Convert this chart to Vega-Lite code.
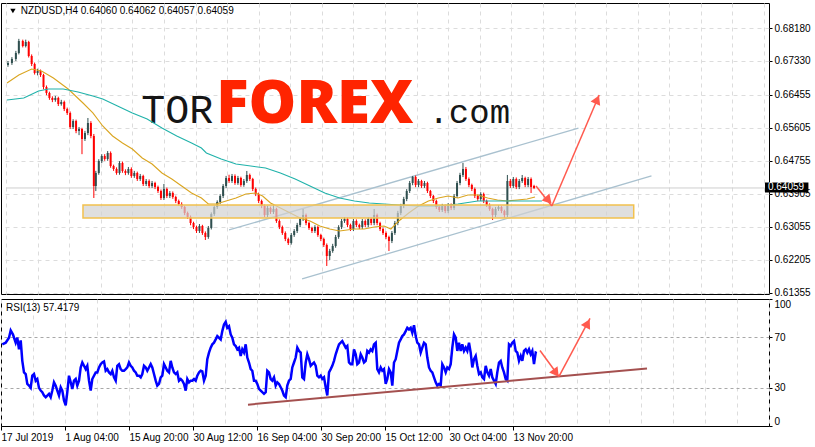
{
  "$schema": "https://vega.github.io/schema/vega-lite/v6.json",
  "padding": {"left": -4, "top": 2, "right": 0, "bottom": 0},
  "background": "#ffffff",
  "spacing": 5,
  "bounds": "flush",
  "config": {
    "view": {"stroke": "#000000", "strokeWidth": 1},
    "axis": {"labelFont": "Liberation Sans", "labelFontSize": 10, "labelColor": "#000000", "tickColor": "#000000", "domain": false}
  },
  "datasets": {
    "wm_tor": [{"t": 137, "p": 0.65733, "txt": "TOR"}],
    "wm_forex": [{"t": 213, "p": 0.65733, "txt": "FOREX"}],
    "wm_com": [{"t": 428, "p": 0.65733, "txt": ".com"}],
    "bid": [{"t": 0, "t2": 768, "p": 0.64059}],
    "chan": [{"t": 226, "p": 0.62977, "t2": 580, "p2": 0.65604}, {"t": 300, "p": 0.61715, "t2": 654, "p2": 0.64368}],
    "zone": [{"t": 78, "t2": 636, "p": 0.63286, "p2": 0.63621}],
    "arrows": [{"t": 537, "p": 0.64110, "t2": 553, "p2": 0.63595}, {"t": 553, "p": 0.63595, "t2": 601, "p2": 0.66454}],
    "head1": [{"t": 549.7, "p": 0.63742}],
    "head2": [{"t": 599, "p": 0.66336}],
    "pricebox": [{"t": 769, "t2": 813, "p": 0.63943, "p2": 0.64200}],
    "pricetext": [{"t": 772, "p": 0.64072, "txt": "0.64059"}],
    "titletri": [{"t": 7, "p": 0.68618}],
    "titletext": [{"t": 15, "p": 0.68618, "txt": "NZDUSD,H4  0.64060 0.64062 0.64057 0.64059"}],
    "ma": [
      {"t": 1, "p": 0.66763, "s": "fast"}, {"t": 13, "p": 0.66969, "s": "fast"}, {"t": 26, "p": 0.67124, "s": "fast"}, {"t": 36, "p": 0.67072, "s": "fast"}, {"t": 48, "p": 0.66892, "s": "fast"}, {"t": 63, "p": 0.66609, "s": "fast"}, {"t": 78, "p": 0.66248, "s": "fast"}, {"t": 88, "p": 0.65991, "s": "fast"}, {"t": 98, "p": 0.65656, "s": "fast"}, {"t": 108, "p": 0.65398, "s": "fast"}, {"t": 118, "p": 0.65218, "s": "fast"}, {"t": 128, "p": 0.65063, "s": "fast"}, {"t": 138, "p": 0.64832, "s": "fast"}, {"t": 148, "p": 0.64677, "s": "fast"}, {"t": 158, "p": 0.64445, "s": "fast"}, {"t": 168, "p": 0.64291, "s": "fast"}, {"t": 178, "p": 0.64110, "s": "fast"}, {"t": 188, "p": 0.63930, "s": "fast"}, {"t": 198, "p": 0.63801, "s": "fast"}, {"t": 205, "p": 0.63647, "s": "fast"}, {"t": 213, "p": 0.63647, "s": "fast"}, {"t": 223, "p": 0.63724, "s": "fast"}, {"t": 233, "p": 0.63801, "s": "fast"}, {"t": 243, "p": 0.63904, "s": "fast"}, {"t": 253, "p": 0.63930, "s": "fast"}, {"t": 260, "p": 0.63853, "s": "fast"}, {"t": 268, "p": 0.63672, "s": "fast"}, {"t": 278, "p": 0.63544, "s": "fast"}, {"t": 288, "p": 0.63415, "s": "fast"}, {"t": 298, "p": 0.63286, "s": "fast"}, {"t": 308, "p": 0.63209, "s": "fast"}, {"t": 318, "p": 0.63080, "s": "fast"}, {"t": 328, "p": 0.63003, "s": "fast"}, {"t": 338, "p": 0.62951, "s": "fast"}, {"t": 353, "p": 0.63003, "s": "fast"}, {"t": 363, "p": 0.63003, "s": "fast"}, {"t": 373, "p": 0.63054, "s": "fast"}, {"t": 383, "p": 0.63080, "s": "fast"}, {"t": 390, "p": 0.63003, "s": "fast"}, {"t": 398, "p": 0.63209, "s": "fast"}, {"t": 408, "p": 0.63415, "s": "fast"}, {"t": 418, "p": 0.63595, "s": "fast"}, {"t": 428, "p": 0.63724, "s": "fast"}, {"t": 438, "p": 0.63801, "s": "fast"}, {"t": 448, "p": 0.63853, "s": "fast"}, {"t": 458, "p": 0.63801, "s": "fast"}, {"t": 468, "p": 0.63878, "s": "fast"}, {"t": 478, "p": 0.63878, "s": "fast"}, {"t": 488, "p": 0.63801, "s": "fast"}, {"t": 498, "p": 0.63750, "s": "fast"}, {"t": 508, "p": 0.63724, "s": "fast"}, {"t": 518, "p": 0.63750, "s": "fast"}, {"t": 528, "p": 0.63775, "s": "fast"}, {"t": 536, "p": 0.63827, "s": "fast"},
      {"t": 1, "p": 0.66326, "s": "slow"}, {"t": 18, "p": 0.66377, "s": "slow"}, {"t": 33, "p": 0.66557, "s": "slow"}, {"t": 43, "p": 0.66609, "s": "slow"}, {"t": 58, "p": 0.66609, "s": "slow"}, {"t": 73, "p": 0.66532, "s": "slow"}, {"t": 88, "p": 0.66429, "s": "slow"}, {"t": 98, "p": 0.66351, "s": "slow"}, {"t": 113, "p": 0.66171, "s": "slow"}, {"t": 128, "p": 0.65991, "s": "slow"}, {"t": 143, "p": 0.65836, "s": "slow"}, {"t": 158, "p": 0.65604, "s": "slow"}, {"t": 173, "p": 0.65398, "s": "slow"}, {"t": 188, "p": 0.65218, "s": "slow"}, {"t": 198, "p": 0.65089, "s": "slow"}, {"t": 203, "p": 0.64960, "s": "slow"}, {"t": 218, "p": 0.64806, "s": "slow"}, {"t": 233, "p": 0.64677, "s": "slow"}, {"t": 248, "p": 0.64625, "s": "slow"}, {"t": 263, "p": 0.64574, "s": "slow"}, {"t": 278, "p": 0.64445, "s": "slow"}, {"t": 293, "p": 0.64291, "s": "slow"}, {"t": 308, "p": 0.64110, "s": "slow"}, {"t": 323, "p": 0.63930, "s": "slow"}, {"t": 338, "p": 0.63801, "s": "slow"}, {"t": 353, "p": 0.63724, "s": "slow"}, {"t": 368, "p": 0.63672, "s": "slow"}, {"t": 383, "p": 0.63647, "s": "slow"}, {"t": 398, "p": 0.63621, "s": "slow"}, {"t": 418, "p": 0.63595, "s": "slow"}, {"t": 438, "p": 0.63595, "s": "slow"}, {"t": 458, "p": 0.63647, "s": "slow"}, {"t": 478, "p": 0.63724, "s": "slow"}, {"t": 498, "p": 0.63724, "s": "slow"}, {"t": 518, "p": 0.63724, "s": "slow"}, {"t": 543, "p": 0.63724, "s": "slow"}
    ],
    "candles": [
      {"t":2,"o":0.67227,"h":0.67330,"l":0.67180,"c":0.67279},{"t":6,"o":0.67279,"h":0.67430,"l":0.67230,"c":0.67382},{"t":10,"o":0.67382,"h":0.67590,"l":0.67330,"c":0.67536},{"t":13,"o":0.67536,"h":0.67900,"l":0.67500,"c":0.67845},{"t":17,"o":0.67845,"h":0.67880,"l":0.67680,"c":0.67716},{"t":20,"o":0.67716,"h":0.67880,"l":0.67680,"c":0.67819},{"t":23,"o":0.67819,"h":0.67850,"l":0.67420,"c":0.67459},{"t":26,"o":0.67459,"h":0.67500,"l":0.67200,"c":0.67253},{"t":29,"o":0.67253,"h":0.67290,"l":0.66980,"c":0.67021},{"t":32,"o":0.67021,"h":0.67130,"l":0.66960,"c":0.67072},
      {"t":35,"o":0.67072,"h":0.67110,"l":0.66920,"c":0.66969},{"t":38,"o":0.66969,"h":0.67000,"l":0.66600,"c":0.66660},{"t":41,"o":0.66660,"h":0.66700,"l":0.66450,"c":0.66506},{"t":44,"o":0.66506,"h":0.66540,"l":0.66330,"c":0.66377},{"t":47,"o":0.66377,"h":0.66420,"l":0.66270,"c":0.66326},{"t":50,"o":0.66326,"h":0.66430,"l":0.66280,"c":0.66377},{"t":53,"o":0.66377,"h":0.66410,"l":0.66170,"c":0.66222},{"t":56,"o":0.66222,"h":0.66330,"l":0.66180,"c":0.66274},{"t":59,"o":0.66274,"h":0.66310,"l":0.66040,"c":0.66094},{"t":62,"o":0.66094,"h":0.66130,"l":0.65940,"c":0.65991},
      {"t":65,"o":0.65991,"h":0.66030,"l":0.65580,"c":0.65630},{"t":68,"o":0.65630,"h":0.65830,"l":0.65580,"c":0.65785},{"t":71,"o":0.65785,"h":0.65820,"l":0.65470,"c":0.65527},{"t":74,"o":0.65527,"h":0.65630,"l":0.65420,"c":0.65579},{"t":77,"o":0.65579,"h":0.65610,"l":0.64930,"c":0.65321},{"t":80,"o":0.65321,"h":0.65530,"l":0.65270,"c":0.65475},{"t":83,"o":0.65475,"h":0.65862,"l":0.65420,"c":0.65733},{"t":86,"o":0.65733,"h":0.65780,"l":0.65340,"c":0.65398},{"t":89,"o":0.65398,"h":0.65450,"l":0.63801,"c":0.64110},{"t":91,"o":0.64110,"h":0.64500,"l":0.63980,"c":0.64445},
      {"t":94,"o":0.64445,"h":0.64800,"l":0.64400,"c":0.64754},{"t":97,"o":0.64754,"h":0.64930,"l":0.64700,"c":0.64883},{"t":100,"o":0.64883,"h":0.64930,"l":0.64760,"c":0.64806},{"t":103,"o":0.64806,"h":0.65010,"l":0.64760,"c":0.64960},{"t":106,"o":0.64960,"h":0.65000,"l":0.64580,"c":0.64625},{"t":109,"o":0.64625,"h":0.64660,"l":0.64500,"c":0.64548},{"t":112,"o":0.64548,"h":0.64590,"l":0.64400,"c":0.64445},{"t":115,"o":0.64445,"h":0.64750,"l":0.64400,"c":0.64703},{"t":118,"o":0.64703,"h":0.64740,"l":0.64450,"c":0.64497},{"t":121,"o":0.64497,"h":0.64540,"l":0.64390,"c":0.64445},
      {"t":124,"o":0.64445,"h":0.64600,"l":0.64400,"c":0.64548},{"t":127,"o":0.64548,"h":0.64590,"l":0.64320,"c":0.64368},{"t":130,"o":0.64368,"h":0.64500,"l":0.64320,"c":0.64445},{"t":133,"o":0.64445,"h":0.64480,"l":0.64240,"c":0.64291},{"t":136,"o":0.64291,"h":0.64420,"l":0.64240,"c":0.64368},{"t":139,"o":0.64368,"h":0.64400,"l":0.64110,"c":0.64162},{"t":142,"o":0.64162,"h":0.64290,"l":0.64110,"c":0.64239},{"t":145,"o":0.64239,"h":0.64280,"l":0.64060,"c":0.64110},{"t":148,"o":0.64110,"h":0.64240,"l":0.64060,"c":0.64188},{"t":151,"o":0.64188,"h":0.64220,"l":0.64030,"c":0.64085},
      {"t":154,"o":0.64085,"h":0.64120,"l":0.63930,"c":0.63982},{"t":157,"o":0.63982,"h":0.64020,"l":0.63750,"c":0.63801},{"t":160,"o":0.63801,"h":0.64162,"l":0.63750,"c":0.64033},{"t":163,"o":0.64033,"h":0.64070,"l":0.63800,"c":0.63853},{"t":166,"o":0.63853,"h":0.63980,"l":0.63800,"c":0.63930},{"t":169,"o":0.63930,"h":0.63970,"l":0.63780,"c":0.63827},{"t":172,"o":0.63827,"h":0.63860,"l":0.63670,"c":0.63724},{"t":175,"o":0.63724,"h":0.63760,"l":0.63600,"c":0.63647},{"t":178,"o":0.63647,"h":0.63690,"l":0.63520,"c":0.63569},{"t":181,"o":0.63569,"h":0.63600,"l":0.63360,"c":0.63415},
      {"t":184,"o":0.63415,"h":0.63450,"l":0.63260,"c":0.63312},{"t":187,"o":0.63312,"h":0.63350,"l":0.63100,"c":0.63157},{"t":190,"o":0.63157,"h":0.63190,"l":0.63000,"c":0.63054},{"t":193,"o":0.63054,"h":0.63090,"l":0.62900,"c":0.62951},{"t":196,"o":0.62951,"h":0.63130,"l":0.62900,"c":0.63080},{"t":199,"o":0.63080,"h":0.63110,"l":0.62850,"c":0.62900},{"t":202,"o":0.62900,"h":0.62940,"l":0.62719,"c":0.62797},{"t":205,"o":0.62797,"h":0.63080,"l":0.62750,"c":0.63028},{"t":208,"o":0.63028,"h":0.63430,"l":0.62990,"c":0.63389},{"t":211,"o":0.63389,"h":0.63610,"l":0.63340,"c":0.63569},
      {"t":214,"o":0.63569,"h":0.63740,"l":0.63520,"c":0.63698},{"t":217,"o":0.63698,"h":0.63900,"l":0.63650,"c":0.63853},{"t":220,"o":0.63853,"h":0.64160,"l":0.63800,"c":0.64110},{"t":223,"o":0.64110,"h":0.64370,"l":0.64060,"c":0.64316},{"t":226,"o":0.64316,"h":0.64400,"l":0.64190,"c":0.64239},{"t":229,"o":0.64239,"h":0.64420,"l":0.64190,"c":0.64368},{"t":232,"o":0.64368,"h":0.64410,"l":0.64140,"c":0.64188},{"t":235,"o":0.64188,"h":0.64370,"l":0.64140,"c":0.64316},{"t":238,"o":0.64316,"h":0.64350,"l":0.64090,"c":0.64136},{"t":241,"o":0.64136,"h":0.64290,"l":0.64090,"c":0.64239},
      {"t":244,"o":0.64239,"h":0.64497,"l":0.64190,"c":0.64394},{"t":247,"o":0.64394,"h":0.64430,"l":0.64240,"c":0.64291},{"t":250,"o":0.64291,"h":0.64320,"l":0.63980,"c":0.64033},{"t":253,"o":0.64033,"h":0.64070,"l":0.63850,"c":0.63904},{"t":256,"o":0.63904,"h":0.63940,"l":0.63670,"c":0.63724},{"t":259,"o":0.63724,"h":0.63760,"l":0.63540,"c":0.63595},{"t":262,"o":0.63595,"h":0.63630,"l":0.63310,"c":0.63363},{"t":265,"o":0.63363,"h":0.63600,"l":0.63310,"c":0.63544},{"t":268,"o":0.63544,"h":0.63580,"l":0.63390,"c":0.63441},{"t":271,"o":0.63441,"h":0.63647,"l":0.63390,"c":0.63518},
      {"t":274,"o":0.63518,"h":0.63550,"l":0.63160,"c":0.63209},{"t":277,"o":0.63209,"h":0.63250,"l":0.63000,"c":0.63054},{"t":280,"o":0.63054,"h":0.63090,"l":0.62850,"c":0.62900},{"t":283,"o":0.62900,"h":0.62940,"l":0.62690,"c":0.62745},{"t":286,"o":0.62745,"h":0.62780,"l":0.62591,"c":0.62642},{"t":289,"o":0.62642,"h":0.62900,"l":0.62600,"c":0.62848},{"t":292,"o":0.62848,"h":0.63000,"l":0.62800,"c":0.62951},{"t":295,"o":0.62951,"h":0.63160,"l":0.62900,"c":0.63106},{"t":298,"o":0.63106,"h":0.63310,"l":0.63050,"c":0.63260},{"t":301,"o":0.63260,"h":0.63518,"l":0.63210,"c":0.63363},
      {"t":304,"o":0.63363,"h":0.63400,"l":0.63100,"c":0.63157},{"t":307,"o":0.63157,"h":0.63190,"l":0.62980,"c":0.63028},{"t":310,"o":0.63028,"h":0.63060,"l":0.62900,"c":0.62951},{"t":313,"o":0.62951,"h":0.63100,"l":0.62900,"c":0.63054},{"t":316,"o":0.63054,"h":0.63090,"l":0.62800,"c":0.62848},{"t":319,"o":0.62848,"h":0.62880,"l":0.62690,"c":0.62745},{"t":322,"o":0.62745,"h":0.62780,"l":0.62540,"c":0.62591},{"t":325,"o":0.62591,"h":0.62630,"l":0.62050,"c":0.62307},{"t":328,"o":0.62307,"h":0.62490,"l":0.62200,"c":0.62436},{"t":331,"o":0.62436,"h":0.62620,"l":0.62390,"c":0.62565},
      {"t":334,"o":0.62565,"h":0.62850,"l":0.62520,"c":0.62797},{"t":337,"o":0.62797,"h":0.63100,"l":0.62750,"c":0.63054},{"t":340,"o":0.63054,"h":0.63260,"l":0.63000,"c":0.63209},{"t":343,"o":0.63209,"h":0.63310,"l":0.63160,"c":0.63260},{"t":346,"o":0.63260,"h":0.63300,"l":0.63050,"c":0.63106},{"t":349,"o":0.63106,"h":0.63140,"l":0.62950,"c":0.63003},{"t":352,"o":0.63003,"h":0.63260,"l":0.62950,"c":0.63209},{"t":355,"o":0.63209,"h":0.63250,"l":0.63050,"c":0.63106},{"t":358,"o":0.63106,"h":0.63140,"l":0.63000,"c":0.63054},{"t":361,"o":0.63054,"h":0.63260,"l":0.63000,"c":0.63209},
      {"t":364,"o":0.63209,"h":0.63250,"l":0.63050,"c":0.63106},{"t":367,"o":0.63106,"h":0.63310,"l":0.63050,"c":0.63260},{"t":370,"o":0.63260,"h":0.63300,"l":0.63100,"c":0.63157},{"t":373,"o":0.63157,"h":0.63518,"l":0.63100,"c":0.63363},{"t":376,"o":0.63363,"h":0.63400,"l":0.63100,"c":0.63157},{"t":379,"o":0.63157,"h":0.63190,"l":0.62950,"c":0.63003},{"t":382,"o":0.63003,"h":0.63040,"l":0.62850,"c":0.62900},{"t":385,"o":0.62900,"h":0.62940,"l":0.62740,"c":0.62797},{"t":388,"o":0.62797,"h":0.62830,"l":0.62436,"c":0.62694},{"t":391,"o":0.62694,"h":0.62950,"l":0.62640,"c":0.62900},
      {"t":394,"o":0.62900,"h":0.63210,"l":0.62850,"c":0.63157},{"t":397,"o":0.63157,"h":0.63470,"l":0.63100,"c":0.63415},{"t":400,"o":0.63415,"h":0.63650,"l":0.63360,"c":0.63595},{"t":403,"o":0.63595,"h":0.63830,"l":0.63540,"c":0.63775},{"t":406,"o":0.63775,"h":0.64030,"l":0.63720,"c":0.63982},{"t":409,"o":0.63982,"h":0.64240,"l":0.63930,"c":0.64188},{"t":412,"o":0.64188,"h":0.64368,"l":0.64130,"c":0.64342},{"t":415,"o":0.64342,"h":0.64380,"l":0.64080,"c":0.64136},{"t":418,"o":0.64136,"h":0.64290,"l":0.64080,"c":0.64239},{"t":421,"o":0.64239,"h":0.64270,"l":0.64060,"c":0.64110},
      {"t":424,"o":0.64110,"h":0.64240,"l":0.64060,"c":0.64188},{"t":427,"o":0.64188,"h":0.64220,"l":0.63930,"c":0.63982},{"t":430,"o":0.63982,"h":0.64010,"l":0.63800,"c":0.63853},{"t":433,"o":0.63853,"h":0.63880,"l":0.63670,"c":0.63724},{"t":436,"o":0.63724,"h":0.63760,"l":0.63520,"c":0.63569},{"t":439,"o":0.63569,"h":0.63600,"l":0.63440,"c":0.63492},{"t":442,"o":0.63492,"h":0.63650,"l":0.63440,"c":0.63595},{"t":445,"o":0.63595,"h":0.63630,"l":0.63410,"c":0.63466},{"t":448,"o":0.63466,"h":0.63670,"l":0.63410,"c":0.63621},{"t":451,"o":0.63621,"h":0.63660,"l":0.63490,"c":0.63544},
      {"t":454,"o":0.63544,"h":0.63900,"l":0.63490,"c":0.63853},{"t":457,"o":0.63853,"h":0.64240,"l":0.63800,"c":0.64188},{"t":460,"o":0.64188,"h":0.64450,"l":0.64130,"c":0.64394},{"t":463,"o":0.64394,"h":0.64703,"l":0.64340,"c":0.64548},{"t":466,"o":0.64548,"h":0.64600,"l":0.64240,"c":0.64291},{"t":469,"o":0.64291,"h":0.64330,"l":0.64080,"c":0.64136},{"t":472,"o":0.64136,"h":0.64170,"l":0.63980,"c":0.64033},{"t":475,"o":0.64033,"h":0.64070,"l":0.63800,"c":0.63853},{"t":478,"o":0.63853,"h":0.63890,"l":0.63720,"c":0.63775},{"t":481,"o":0.63775,"h":0.63950,"l":0.63720,"c":0.63904},
      {"t":484,"o":0.63904,"h":0.63940,"l":0.63670,"c":0.63724},{"t":487,"o":0.63724,"h":0.63760,"l":0.63570,"c":0.63621},{"t":490,"o":0.63621,"h":0.63660,"l":0.63470,"c":0.63518},{"t":493,"o":0.63518,"h":0.63550,"l":0.63235,"c":0.63363},{"t":496,"o":0.63363,"h":0.63570,"l":0.63310,"c":0.63518},{"t":499,"o":0.63518,"h":0.63620,"l":0.63470,"c":0.63569},{"t":502,"o":0.63569,"h":0.63600,"l":0.63410,"c":0.63466},{"t":505,"o":0.63466,"h":0.63500,"l":0.63286,"c":0.63363},{"t":508,"o":0.63363,"h":0.64394,"l":0.63310,"c":0.64239},{"t":511,"o":0.64239,"h":0.64290,"l":0.64060,"c":0.64110},
      {"t":514,"o":0.64110,"h":0.64342,"l":0.64060,"c":0.64291},{"t":517,"o":0.64291,"h":0.64330,"l":0.64030,"c":0.64085},{"t":520,"o":0.64085,"h":0.64290,"l":0.64030,"c":0.64239},{"t":523,"o":0.64239,"h":0.64394,"l":0.64190,"c":0.64316},{"t":526,"o":0.64316,"h":0.64350,"l":0.64080,"c":0.64136},{"t":529,"o":0.64136,"h":0.64342,"l":0.64080,"c":0.64291},{"t":532,"o":0.64291,"h":0.64330,"l":0.63930,"c":0.64085},{"t":535,"o":0.64110,"h":0.64140,"l":0.64030,"c":0.64059}
    ],
    "rsi": [
      {"t":1.3,"v":64.3},{"t":4.7,"v":65.6},{"t":8,"v":69.5},{"t":9.7,"v":75.2},{"t":12,"v":72},{"t":14.7,"v":65.6},{"t":16.3,"v":69.5},{"t":18,"v":60.4},{"t":19.7,"v":67.4},{"t":21.3,"v":51.3},{"t":23,"v":42.2},{"t":24.7,"v":40.9},{"t":26.3,"v":33.1},{"t":28,"v":31.8},{"t":29.7,"v":30},{"t":31.3,"v":39.6},{"t":33,"v":40.9},{"t":34.7,"v":35.7},{"t":36.3,"v":37},{"t":38,"v":30},{"t":39.7,"v":27.9},{"t":41.3,"v":26.6},{"t":43,"v":24},{"t":44.7,"v":22.7},{"t":46.3,"v":24},{"t":48,"v":25.3},{"t":49.7,"v":22.7},{"t":51.3,"v":27.9},{"t":53,"v":34.4},{"t":54.7,"v":31.8},{"t":56.3,"v":27.9},{"t":58,"v":24},{"t":59.7,"v":30.5},{"t":61.3,"v":27.9},{"t":63,"v":20.1},{"t":64.7,"v":16.2},{"t":66.3,"v":26.6},{"t":68,"v":39.6},{"t":69.7,"v":34.4},{"t":71.3,"v":29.2},{"t":73,"v":35.7},{"t":74.7,"v":37},{"t":76.3,"v":31.8},{"t":78,"v":35.7},{"t":79.7,"v":46.1},{"t":81.3,"v":50},{"t":83,"v":47.4},{"t":84.7,"v":44.8},{"t":86.3,"v":47.4},{"t":88,"v":35.7},{"t":89.7,"v":27.9},{"t":91.3,"v":37},{"t":93,"v":39.6},{"t":94.7,"v":42.2},{"t":96.3,"v":42.2},{"t":98,"v":46.1},{"t":99.7,"v":48.7},{"t":101.3,"v":50},{"t":103,"v":50.8},{"t":104.7,"v":43.5},{"t":106.3,"v":44.8},{"t":108,"v":42.2},{"t":109.7,"v":40.9},{"t":111.3,"v":43.5},{"t":113,"v":38.3},{"t":114.7,"v":35.7},{"t":116.3,"v":47.4},{"t":118,"v":48.7},{"t":119.7,"v":44.8},{"t":121.3,"v":43.5},{"t":123,"v":43.5},{"t":124.7,"v":44.8},{"t":126.3,"v":46.1},{"t":128,"v":50},{"t":129.7,"v":47.4},{"t":131.3,"v":46.1},{"t":133,"v":43.5},{"t":134.7,"v":42.2},{"t":136.3,"v":39.6},{"t":138,"v":39.6},{"t":139.7,"v":38.3},{"t":141.3,"v":40.9},{"t":143,"v":47.4},{"t":144.7,"v":46.1},{"t":146.3,"v":43.5},{"t":148,"v":46.1},{"t":149.7,"v":48.7},{"t":151.3,"v":46.1},{"t":153,"v":40.9},{"t":154.7,"v":35.7},{"t":156.3,"v":31.8},{"t":158,"v":33.1},{"t":159.7,"v":38.3},{"t":161.3,"v":39.6},{"t":163,"v":48.7},{"t":164.7,"v":46.1},{"t":166.3,"v":43.5},{"t":168,"v":42.2},{"t":169.7,"v":51.3},{"t":171.3,"v":46.1},{"t":173,"v":42.2},{"t":174.7,"v":40.9},{"t":176.3,"v":42.2},{"t":178,"v":35.7},{"t":179.7,"v":37},{"t":181.3,"v":35.7},{"t":183,"v":33.1},{"t":184.7,"v":27.9},{"t":186.3,"v":37},{"t":188,"v":34.4},{"t":189.7,"v":35.7},{"t":191.3,"v":35.7},{"t":193,"v":37},{"t":194.7,"v":35.7},{"t":196.3,"v":39.6},{"t":198,"v":42.2},{"t":199.7,"v":43.5},{"t":201.3,"v":43},{"t":203,"v":35.7},{"t":204.7,"v":39.6},{"t":206.3,"v":52.6},{"t":208,"v":57.8},{"t":209.7,"v":61.7},{"t":211.3,"v":64.3},{"t":213,"v":65.6},{"t":214.7,"v":68.2},{"t":216.3,"v":70.8},{"t":218,"v":69.5},{"t":219.7,"v":68.2},{"t":221.3,"v":74.7},{"t":223,"v":79.9},{"t":224.7,"v":82},{"t":226.3,"v":77.3},{"t":228,"v":78.6},{"t":229.7,"v":72.1},{"t":231.3,"v":69.5},{"t":233,"v":64.3},{"t":234.7,"v":63},{"t":236.3,"v":60.4},{"t":238,"v":61.7},{"t":239.7,"v":55.2},{"t":241.3,"v":60.4},{"t":243,"v":57.8},{"t":244.7,"v":64.3},{"t":246.3,"v":53.9},{"t":248,"v":50},{"t":249.7,"v":44.8},{"t":251.3,"v":43.5},{"t":253,"v":35.7},{"t":254.7,"v":35.7},{"t":256.3,"v":33.1},{"t":258,"v":29.2},{"t":259.7,"v":27.9},{"t":261.3,"v":26.6},{"t":263,"v":25.3},{"t":264.7,"v":26.6},{"t":266.3,"v":43.5},
      {"t":268,"v":42.2},{"t":269.7,"v":37},{"t":271.3,"v":35.7},{"t":273,"v":38.3},{"t":274.7,"v":31.8},{"t":276.3,"v":34.4},{"t":278,"v":33.1},{"t":279.7,"v":30.5},{"t":281.3,"v":27.9},{"t":283,"v":24},{"t":284.7,"v":22.7},{"t":286.3,"v":31.8},{"t":288,"v":35.7},{"t":289.7,"v":37},{"t":291.3,"v":46.1},{"t":293,"v":50},{"t":294.7,"v":53.9},{"t":296.3,"v":61.7},{"t":298,"v":59.1},{"t":299.7,"v":57.8},{"t":301.3,"v":38.3},{"t":303,"v":37},{"t":304.7,"v":50},{"t":306.3,"v":56.5},{"t":308,"v":52.6},{"t":309.7,"v":47.4},{"t":311.3,"v":48.7},{"t":313,"v":50},{"t":314.7,"v":47.4},{"t":316.3,"v":39.6},{"t":318,"v":38.3},{"t":319.7,"v":39.6},{"t":321.3,"v":37},{"t":323,"v":38.3},{"t":324.7,"v":30.5},{"t":326.3,"v":24},{"t":328,"v":42.2},{"t":329.7,"v":44.8},{"t":331.3,"v":47.4},{"t":333,"v":51.3},{"t":334.7,"v":56.5},{"t":336.3,"v":60.4},{"t":338,"v":64.3},{"t":339.7,"v":65.6},{"t":341.3,"v":66.9},{"t":343,"v":64.3},{"t":344.7,"v":61.7},{"t":346.3,"v":63},{"t":348,"v":50},{"t":349.7,"v":48.7},{"t":351.3,"v":48.7},{"t":353,"v":60.4},{"t":354.7,"v":56.5},{"t":356.3,"v":48.7},{"t":358,"v":50},{"t":359.7,"v":56.5},{"t":361.3,"v":53.9},{"t":363,"v":50},{"t":364.7,"v":51.3},{"t":366.3,"v":59.1},{"t":368,"v":57.8},{"t":369.7,"v":60.4},{"t":371.3,"v":59.1},{"t":373,"v":64.3},{"t":374.7,"v":65.6},{"t":376.3,"v":44.8},{"t":378,"v":42.2},{"t":379.7,"v":46.1},{"t":381.3,"v":43.5},{"t":383,"v":44.8},{"t":384.7,"v":33.1},{"t":386.3,"v":37},{"t":388,"v":44.8},{"t":389.7,"v":42.2},{"t":391.3,"v":31.8},{"t":393,"v":50},{"t":394.7,"v":52.6},{"t":396.3,"v":59.1},{"t":398,"v":65.6},{"t":399.7,"v":68.2},{"t":401.3,"v":70.8},{"t":403,"v":72.1},{"t":404.7,"v":74.7},{"t":406.3,"v":77.3},{"t":408,"v":76},{"t":409.7,"v":77.3},{"t":411.3,"v":73.4},{"t":413,"v":79.4},{"t":414.7,"v":70.8},{"t":416.3,"v":65.6},{"t":418,"v":64.3},{"t":419.7,"v":57.8},{"t":421.3,"v":61.7},{"t":423,"v":65.6},{"t":424.7,"v":64.3},{"t":426.3,"v":53.9},{"t":428,"v":46.1},{"t":429.7,"v":43.5},{"t":431.3,"v":42.2},{"t":433,"v":38.3},{"t":434.7,"v":34.4},{"t":436.3,"v":31.8},{"t":438,"v":33.1},{"t":439.7,"v":31.8},{"t":441.3,"v":48.7},{"t":443,"v":46.1},{"t":444.7,"v":42.2},{"t":446.3,"v":46.1},{"t":448,"v":44.8},{"t":449.7,"v":48.7},{"t":451.3,"v":61.7},{"t":453,"v":72.1},{"t":454.7,"v":69.5},{"t":456.3,"v":59.1},{"t":458,"v":65.6},{"t":459.7,"v":59.1},{"t":461.3,"v":64.3},{"t":463,"v":59.1},{"t":464.7,"v":61.7},{"t":466.3,"v":59.1},{"t":468,"v":65.6},{"t":469.7,"v":57.8},{"t":471.3,"v":46.1},{"t":473,"v":52.6},{"t":474.7,"v":55.2},{"t":476.3,"v":47.4},{"t":478,"v":40.9},{"t":479.7,"v":42.2},{"t":481.3,"v":38.3},{"t":483,"v":37},{"t":484.7,"v":47.4},{"t":486.3,"v":42.2},{"t":488,"v":39.6},{"t":489.7,"v":44.8},{"t":491.3,"v":38.3},{"t":493,"v":35.7},{"t":494.7,"v":33.1},{"t":496.3,"v":42.2},{"t":498,"v":50},{"t":499.7,"v":51.3},{"t":501.3,"v":46.1},{"t":503,"v":42.2},{"t":504.7,"v":37},{"t":506.3,"v":35.7},{"t":508,"v":64.3},{"t":509.7,"v":63},{"t":511.3,"v":65.6},{"t":513,"v":66.9},{"t":514.7,"v":59.1},{"t":516.3,"v":57.8},{"t":518,"v":51.3},{"t":519.7,"v":55.2},{"t":521.3,"v":51.3},{"t":523,"v":59.1},{"t":524.7,"v":60.4},{"t":526.3,"v":57.8},{"t":528,"v":60.4},{"t":529.7,"v":56.5},{"t":531.3,"v":59.1},{"t":533,"v":48.7},{"t":534.7,"v":57.8},{"t":535.7,"v":57.4}
    ],
    "rsitrend": [{"t": 247, "v": 16.8, "t2": 646, "v2": 45.3}],
    "rsiarrows": [{"t": 539, "v": 59.5, "t2": 558, "v2": 39}, {"t": 558, "v": 39, "t2": 589, "v2": 84.8}],
    "rsihead1": [{"t": 555, "v": 41.7}],
    "rsihead2": [{"t": 586.6, "v": 80.8}],
    "rsilabel": [{"t": 5, "v": 93, "txt": "RSI(13) 57.4179"}]
  },
  "vconcat": [
    {
      "width": 768,
      "height": 291,
      "encoding": {
        "x": {"field": "t", "type": "quantitative", "title": null,
          "scale": {"domain": [0, 768], "nice": false, "zero": false},
          "axis": {"values": [0,32,64,96,128,160,192,224,256,288,320,352,384,416,448,480,512,544,576,608,640,672,704,736,768], "labels": false, "ticks": false, "domain": false, "grid": true, "gridColor": "#dcdcdc", "gridDash": [4, 4], "title": null}},
        "y": {"field": "p", "type": "quantitative", "title": null,
          "scale": {"domain": [0.61328, 0.68824], "nice": false, "zero": false},
          "axis": {"orient": "right", "values": [0.68180, 0.67330, 0.66455, 0.65605, 0.64755, 0.63905, 0.63055, 0.62205, 0.61355], "format": ".5f", "grid": true, "gridColor": "#dcdcdc", "gridDash": [4, 4], "tickSize": 3, "labelPadding": 2, "labelOverlap": false, "domain": false, "title": null}}
      },
      "layer": [
        {"data": {"name": "wm_tor"}, "mark": {"type": "text", "font": "Liberation Mono", "fontSize": 40, "align": "left", "baseline": "alphabetic", "color": "#151515"}, "encoding": {"text": {"field": "txt"}}},
        {"data": {"name": "wm_forex"}, "mark": {"type": "text", "font": "Open Sans", "fontWeight": 800, "fontSize": 60, "align": "left", "baseline": "alphabetic", "color": "#ff2400"}, "encoding": {"text": {"field": "txt"}}},
        {"data": {"name": "wm_com"}, "mark": {"type": "text", "font": "Liberation Mono", "fontSize": 34, "align": "left", "baseline": "alphabetic", "color": "#151515"}, "encoding": {"text": {"field": "txt"}}},
        {"data": {"name": "bid"}, "mark": {"type": "rule", "color": "#cfcfcf", "strokeWidth": 1}, "encoding": {"x2": {"field": "t2"}}},
        {"data": {"name": "chan"}, "mark": {"type": "rule", "color": "#a9c1cf", "strokeWidth": 1.3}, "encoding": {"x2": {"field": "t2"}, "y2": {"field": "p2"}}},
        {"data": {"name": "candles"}, "mark": {"type": "rule", "strokeWidth": 1},
          "encoding": {
            "y": {"field": "l", "type": "quantitative", "title": null, "scale": {"domain": [0.61328, 0.68824], "nice": false, "zero": false},
              "axis": {"orient": "right", "values": [0.68180, 0.67330, 0.66455, 0.65605, 0.64755, 0.63905, 0.63055, 0.62205, 0.61355], "format": ".5f", "grid": true, "gridColor": "#dcdcdc", "gridDash": [4, 4], "tickSize": 3, "labelPadding": 2, "labelOverlap": false, "domain": false, "title": null}},
            "y2": {"field": "h"},
            "color": {"condition": {"test": "datum.c >= datum.o", "value": "#2f4f4f"}, "value": "#ff0000"}}},
        {"data": {"name": "candles"}, "mark": {"type": "bar", "width": 2},
          "encoding": {
            "y": {"field": "o", "type": "quantitative", "title": null, "scale": {"domain": [0.61328, 0.68824], "nice": false, "zero": false},
              "axis": {"orient": "right", "values": [0.68180, 0.67330, 0.66455, 0.65605, 0.64755, 0.63905, 0.63055, 0.62205, 0.61355], "format": ".5f", "grid": true, "gridColor": "#dcdcdc", "gridDash": [4, 4], "tickSize": 3, "labelPadding": 2, "labelOverlap": false, "domain": false, "title": null}},
            "y2": {"field": "c"},
            "color": {"condition": {"test": "datum.c >= datum.o", "value": "#2f4f4f"}, "value": "#ff0000"}}},
        {"data": {"name": "ma"}, "mark": {"type": "line", "strokeWidth": 1.1},
          "encoding": {"color": {"field": "s", "type": "nominal", "legend": null, "scale": {"domain": ["fast", "slow"], "range": ["#daa520", "#20b2aa"]}}}},
        {"data": {"name": "zone"}, "mark": {"type": "rect", "fill": "#d2d2d2", "fillOpacity": 0.7, "stroke": "#f2c14e", "strokeWidth": 1.5},
          "encoding": {"x2": {"field": "t2"}, "y2": {"field": "p2"}}},
        {"data": {"name": "arrows"}, "mark": {"type": "rule", "color": "#ff5a4e", "strokeWidth": 1.5}, "encoding": {"x2": {"field": "t2"}, "y2": {"field": "p2"}}},
        {"data": {"name": "head1"}, "mark": {"type": "point", "shape": "triangle-up", "filled": true, "size": 110, "angle": 138, "color": "#ff5a4e", "opacity": 1}},
        {"data": {"name": "head2"}, "mark": {"type": "point", "shape": "triangle-up", "filled": true, "size": 110, "angle": 24, "color": "#ff5a4e", "opacity": 1}},
        {"data": {"name": "pricebox"}, "mark": {"type": "rect", "color": "#000000", "clip": false}, "encoding": {"x2": {"field": "t2"}, "y2": {"field": "p2"}}},
        {"data": {"name": "pricetext"}, "mark": {"type": "text", "font": "Liberation Sans", "fontSize": 10, "align": "left", "baseline": "middle", "color": "#ffffff", "clip": false}, "encoding": {"text": {"field": "txt"}}},
        {"data": {"name": "titletri"}, "mark": {"type": "point", "shape": "triangle-down", "filled": true, "size": 28, "color": "#000000", "opacity": 1}},
        {"data": {"name": "titletext"}, "mark": {"type": "text", "font": "Liberation Sans", "fontSize": 10, "align": "left", "baseline": "middle", "color": "#000000"}, "encoding": {"text": {"field": "txt"}}}
      ]
    },
    {
      "width": 768,
      "height": 127,
      "encoding": {
        "x": {"field": "t", "type": "quantitative", "title": null,
          "scale": {"domain": [0, 768], "nice": false, "zero": false},
          "axis": {"values": [0,32,64,96,128,160,192,224,256,288,320,352,384,416,448,480,512,544,576,608,640,672,704,736,768],
            "labelExpr": "['17 Jul 2019','1 Aug 04:00','15 Aug 20:00','30 Aug 12:00','16 Sep 04:00','30 Sep 20:00','15 Oct 12:00','30 Oct 04:00','13 Nov 20:00'][datum.value/64] || ''",
            "labelAlign": "left", "labelFlush": false, "labelOverlap": false, "labelBound": false, "labelPadding": 2, "tickSize": 4,
            "tickOpacity": {"condition": {"test": "datum.value % 64 !== 0 || datum.value > 512", "value": 0}, "value": 1},
            "grid": true, "gridColor": "#dcdcdc", "gridDash": [4, 4], "domain": false, "title": null}},
        "y": {"field": "v", "type": "quantitative", "title": null,
          "scale": {"domain": [0, 100], "nice": false, "zero": false},
          "axis": {"orient": "right", "values": [0, 30, 70, 100], "grid": true, "gridColor": "#a8a8a8", "gridDash": [3, 3],
            "gridOpacity": {"condition": {"test": "datum.value === 30 || datum.value === 70", "value": 1}, "value": 0},
            "tickSize": 3, "labelPadding": 2, "labelFlush": true, "labelOverlap": false, "domain": false, "title": null}}
      },
      "layer": [
        {"data": {"name": "rsi"}, "mark": {"type": "line", "color": "#0000ff", "strokeWidth": 2.5}},
        {"data": {"name": "rsitrend"}, "mark": {"type": "rule", "color": "#a4504f", "strokeWidth": 2}, "encoding": {"x2": {"field": "t2"}, "y2": {"field": "v2"}}},
        {"data": {"name": "rsiarrows"}, "mark": {"type": "rule", "color": "#ff5a4e", "strokeWidth": 1.5}, "encoding": {"x2": {"field": "t2"}, "y2": {"field": "v2"}}},
        {"data": {"name": "rsihead1"}, "mark": {"type": "point", "shape": "triangle-up", "filled": true, "size": 110, "angle": 144, "color": "#ff5a4e", "opacity": 1}},
        {"data": {"name": "rsihead2"}, "mark": {"type": "point", "shape": "triangle-up", "filled": true, "size": 110, "angle": 28, "color": "#ff5a4e", "opacity": 1}},
        {"data": {"name": "rsilabel"}, "mark": {"type": "text", "font": "Liberation Sans", "fontSize": 10, "align": "left", "baseline": "middle", "color": "#000000"}, "encoding": {"text": {"field": "txt"}}}
      ]
    }
  ]
}
